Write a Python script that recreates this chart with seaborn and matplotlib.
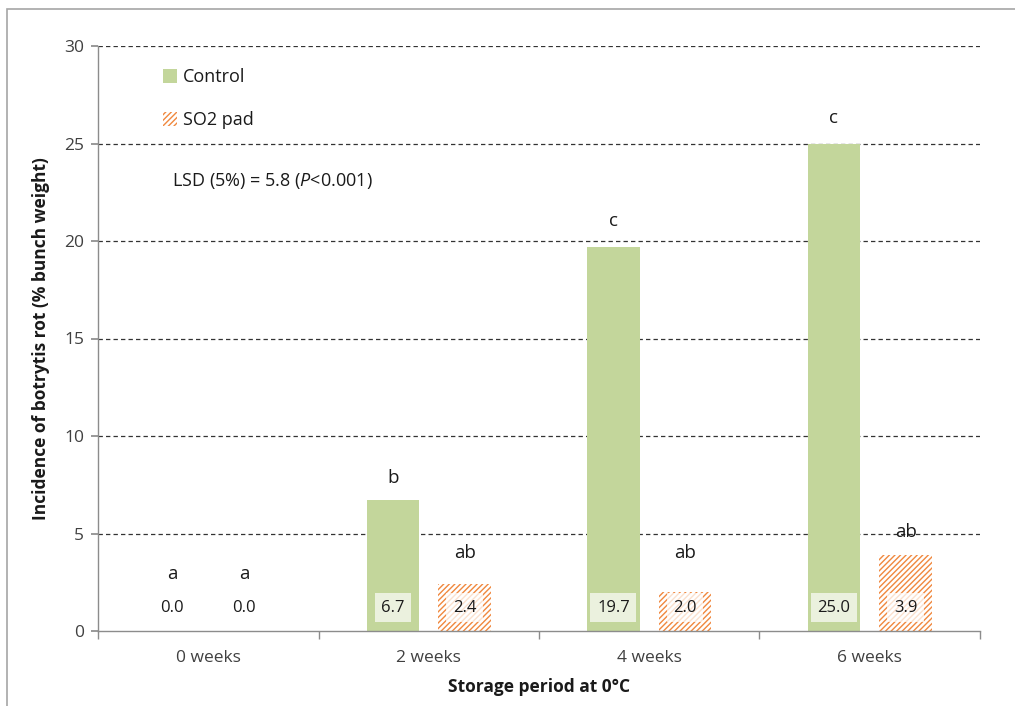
import numpy as np
import pandas as pd
import matplotlib
matplotlib.use("Agg")
import matplotlib.pyplot as plt
import seaborn as sns
from matplotlib.patches import Rectangle, Patch

# data
periods = ["0 weeks", "2 weeks", "4 weeks", "6 weeks"]
treatments = ["Control", "SO2 pad"]
control = [0.0, 6.7, 19.7, 25.0]
so2_pad = [0.0, 2.4, 2.0, 3.9]
control_letters = ["a", "b", "c", "c"]
so2_letters = ["a", "ab", "ab", "ab"]
control_letter_y = [2.9, 7.85, 21.0, 26.3]
so2_letter_y = [2.9, 4.0, 4.0, 5.1]
lsd_text = r"LSD (5%) = 5.8 ($\mathit{P}$<0.001)"

GREEN = "#C3D69B"
ORANGE = "#F0883E"
DARK = "#1a1a1a"
AXIS_GREY = "#8c8c8c"

df = pd.DataFrame({
    "period": periods * 2,
    "treatment": [treatments[0]] * 4 + [treatments[1]] * 4,
    "value": control + so2_pad,
})

sns.set_theme(style="white")
plt.rcParams["font.family"] = ["Open Sans", "DejaVu Sans"]
plt.rcParams["mathtext.fontset"] = "custom"
plt.rcParams["mathtext.rm"] = "Open Sans"
plt.rcParams["mathtext.it"] = "Open Sans:italic"
plt.rcParams["hatch.color"] = ORANGE
plt.rcParams["hatch.linewidth"] = 1.0

fig = plt.figure(figsize=(10.15, 7.06), dpi=100)
ax = fig.add_axes([98 / 1015, 75 / 706, 882 / 1015, 585 / 706])

sns.barplot(data=df, x="period", y="value", hue="treatment",
            palette=[GREEN, "white"], width=0.65, gap=0.27,
            ax=ax, legend=False, saturation=1)

n = len(periods)
for i, bar in enumerate(ax.patches[:2 * n]):
    bar.set_linewidth(0)
    if i >= n:
        bar.set_facecolor("white")
        bar.set_hatch("//////")
        bar.set_edgecolor(ORANGE)

# value labels and significance letters
for i, bar in enumerate(ax.patches[:2 * n]):
    xc = bar.get_x() + bar.get_width() / 2
    is_ctrl = i < n
    val = control[i] if is_ctrl else so2_pad[i - n]
    letter = control_letters[i] if is_ctrl else so2_letters[i - n]
    ly = control_letter_y[i] if is_ctrl else so2_letter_y[i - n]
    if val > 0:
        fc = "#EBF1DE" if is_ctrl else "white"
        box = dict(boxstyle="square,pad=0.4", fc=fc, ec="none",
                   alpha=1.0 if is_ctrl else 0.75)
    else:
        box = None
    ax.text(xc, 1.2, f"{val:.1f}", ha="center", va="center",
            fontsize=12, color=DARK, bbox=box)
    ax.text(xc, ly, letter, ha="center", va="center", fontsize=13.5,
            color=DARK)

ax.set_ylim(0, 30)
ax.set_xlim(-0.5, n - 0.5)
ax.set_yticks(np.arange(0, 31, 5))
ax.yaxis.grid(True, color="#333333", linestyle=(0, (3.5, 2.5)), linewidth=0.9)
ax.set_axisbelow(True)
ax.get_ygridlines()[0].set_visible(False)

for side in ["top", "right"]:
    ax.spines[side].set_visible(False)
for side in ["left", "bottom"]:
    ax.spines[side].set_color(AXIS_GREY)
    ax.spines[side].set_linewidth(1.0)

ax.tick_params(axis="y", left=True, length=5, color=AXIS_GREY,
               labelsize=12.5, labelcolor="#404040", pad=5)
ax.set_xticks(range(n))
ax.set_xticks(np.arange(-0.5, n, 1), minor=True)
ax.tick_params(axis="x", which="major", length=0, labelsize=12.5,
               labelcolor="#404040", pad=14)
ax.tick_params(axis="x", which="minor", bottom=True, length=6,
               color=AXIS_GREY)

ax.set_xlabel("Storage period at 0°C", fontsize=12.5, fontweight="bold",
              color=DARK, labelpad=8)
ax.set_ylabel("Incidence of botrytis rot (% bunch weight)", fontsize=12.5,
              fontweight="bold", color=DARK, labelpad=10)

handles = [Patch(facecolor=GREEN, edgecolor="none", label=treatments[0]),
           Patch(facecolor="white", edgecolor=ORANGE, hatch="//////",
                 linewidth=0, label=treatments[1])]
leg = ax.legend(handles=handles, loc="upper left",
                bbox_to_anchor=(0.055, 0.99), frameon=False, fontsize=13,
                handlelength=0.8, handleheight=0.8, handletextpad=0.3,
                labelspacing=1.4)
for t in leg.get_texts():
    t.set_color(DARK)

fig.text(172 / 1015, 1 - 181 / 706, lsd_text, fontsize=13, color=DARK,
         va="center", ha="left")

# outer chart border
fig.patches.append(Rectangle((7 / 1015, -0.05), 1.2, 1 - 9 / 706 + 0.05,
                             transform=fig.transFigure, fill=False,
                             edgecolor="#a6a6a6", linewidth=1.2))

fig.savefig("out.png", dpi=100)
